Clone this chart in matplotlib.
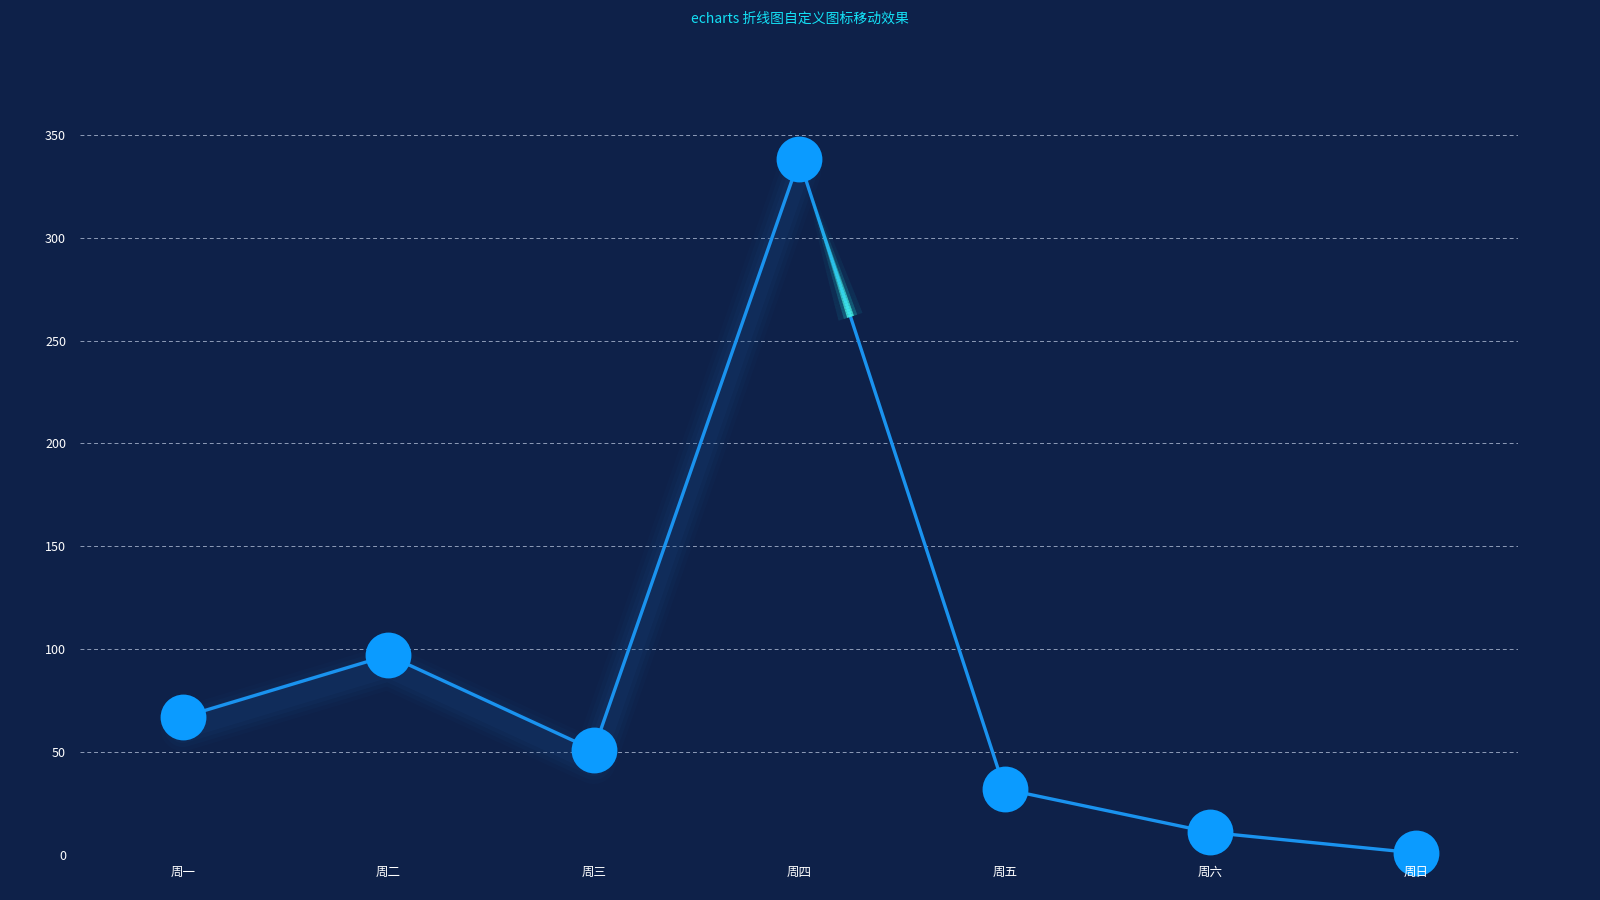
import numpy as np
import matplotlib
matplotlib.use("Agg")
import matplotlib.pyplot as plt
from matplotlib.transforms import offset_copy

plt.rcParams['font.family'] = ['Noto Sans CJK SC', 'DejaVu Sans']

days = ['周一', '周二', '周三', '周四', '周五', '周六', '周日']
values = [67, 97, 51, 338, 32, 11, 1]
y_ticks = [0, 50, 100, 150, 200, 250, 300, 350]
title = 'echarts 折线图自定义图标移动效果'

# moving symbol trail on the 周四 -> 周五 segment (fraction along segment)
trail_start, trail_end = 0.04, 0.25

bg = '#0e2149'
fig = plt.figure(figsize=(16, 9), dpi=100, facecolor=bg)
ax = fig.add_axes([0.05, 0.05, 0.899, 0.8003])
ax.set_facecolor(bg)

x = np.arange(len(days))

# blurred shadow band (shifted down) on the first part of the line
shadow_tr = offset_copy(ax.transData, fig=fig, y=-12, units='dots')
for w, a in [(44, 0.05), (36, 0.07), (28, 0.09), (20, 0.10)]:
    ax.plot(x[:4], values[:4], color='#1c4f8c', lw=w * 0.72, alpha=a,
            solid_joinstyle='round', solid_capstyle='round', zorder=1,
            transform=shadow_tr)

ax.plot(x, values, color='#1a93ef', lw=2.4, zorder=3, clip_on=False)

# trail effect
seg = np.linspace(trail_start, trail_end, 50)
x0, x1 = x[3], x[4]
y0, y1 = values[3], values[4]
for i in range(len(seg) - 1):
    t = (i + 1) / (len(seg) - 1)
    xs = [x0 + (x1 - x0) * seg[i], x0 + (x1 - x0) * seg[i + 1]]
    ys = [y0 + (y1 - y0) * seg[i], y0 + (y1 - y0) * seg[i + 1]]
    ax.plot(xs, ys, color='#16c8d8', lw=18 * t ** 0.7, alpha=0.10 * t, zorder=4,
            solid_capstyle='butt')
    ax.plot(xs, ys, color='#22e0e0', lw=10 * t ** 0.7, alpha=0.25 * t, zorder=4,
            solid_capstyle='butt')
    ax.plot(xs, ys, color='#49f7e8', lw=5 * t ** 0.7, alpha=0.8 * t ** 1.5, zorder=5,
            solid_capstyle='butt')

ax.scatter(x, values, s=33 ** 2, color='#0b9bff', zorder=6, clip_on=False,
           linewidths=0)

ax.set_xlim(-0.5, len(days) - 0.5)
ax.set_ylim(0, 350)
ax.set_xticks(x)
ax.set_xticklabels(days, color='white', fontsize=9)
ax.set_yticks(y_ticks)
ax.set_yticklabels([str(v) for v in y_ticks], color='white', fontsize=9)
ax.tick_params(axis='x', length=0, pad=8)
ax.tick_params(axis='y', length=0, pad=10)
ax.grid(axis='y', color='#8e9cb8', ls=(0, (4, 3)), lw=0.7)
ax.set_axisbelow(True)
ax.xaxis.set_zorder(10)  # category labels sit over the markers
for s in ax.spines.values():
    s.set_visible(False)

fig.text(0.5, 0.979, title, color='#14e0f5', fontsize=10, ha='center', va='center')

fig.savefig('out.png', dpi=100, facecolor=bg)
